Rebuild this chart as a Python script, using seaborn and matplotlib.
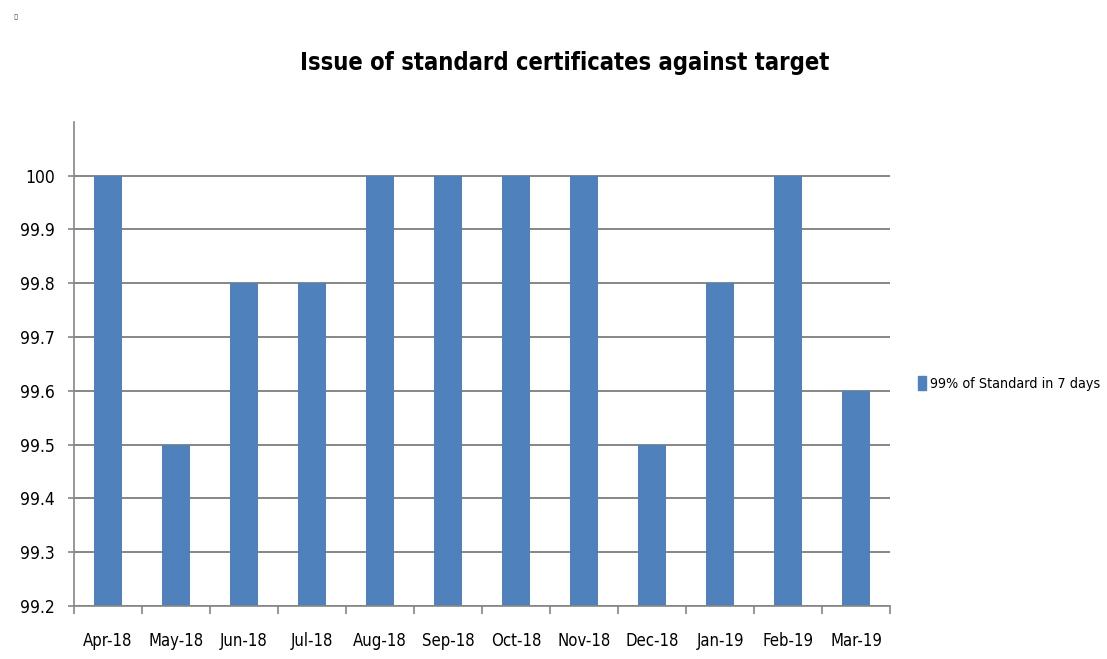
import numpy as np
import pandas as pd
import matplotlib
matplotlib.use("Agg")
import matplotlib.pyplot as plt
from matplotlib.ticker import FixedLocator
import seaborn as sns

months = ["Apr-18", "May-18", "Jun-18", "Jul-18", "Aug-18", "Sep-18",
          "Oct-18", "Nov-18", "Dec-18", "Jan-19", "Feb-19", "Mar-19"]
values = [100, 99.5, 99.8, 99.8, 100, 100, 100, 100, 99.5, 99.8, 100, 99.6]
series_name = "99% of Standard in 7 days"
yticks = [99.2, 99.3, 99.4, 99.5, 99.6, 99.7, 99.8, 99.9, 100]
ytick_labels = ["99.2", "99.3", "99.4", "99.5", "99.6", "99.7", "99.8", "99.9", "100"]

df = pd.DataFrame({"Month": months, "Value": values, "Series": series_name})

sns.set_style("white")
plt.rcParams['font.family'] = ['DejaVu Sans']
plt.rcParams['font.stretch'] = 'condensed'
plt.rcParams['text.color'] = 'black'
plt.rcParams['xtick.color'] = 'black'
plt.rcParams['ytick.color'] = 'black'

fig = plt.figure(figsize=(11.07, 6.59), dpi=100)
ax = fig.add_axes([0.0668, 0.0804, 0.7372, 0.7346])

sns.barplot(data=df, x="Month", y="Value", hue="Series", palette=["#4F81BD"],
            width=0.4, saturation=1, ax=ax, legend=False, linewidth=0)

ax.set_ylim(99.2, 100.1)
ax.set_xlim(-0.5, len(months) - 0.5)
ax.set_yticks(yticks)
ax.set_yticklabels(ytick_labels)
ax.yaxis.grid(True, color="#868686", linewidth=1.4)
ax.set_axisbelow(True)
ax.set_xlabel("")
ax.set_ylabel("")

for s in ["top", "right"]:
    ax.spines[s].set_visible(False)
for s in ["left", "bottom"]:
    ax.spines[s].set_color("#868686")
    ax.spines[s].set_linewidth(1.2)

ax.xaxis.set_minor_locator(FixedLocator(np.arange(-0.5, len(months), 1.0)))
ax.tick_params(axis="x", which="major", length=0, pad=19, labelsize=12,
               labelcolor="black")
ax.tick_params(axis="x", which="minor", length=6, width=1.2, color="#868686",
               direction="out", bottom=True)
ax.tick_params(axis="y", length=4, width=1.2, color="#868686", pad=10, labelsize=12.5,
               labelcolor="black", direction="out", left=True)

handle = plt.Rectangle((0, 0), 1, 1, color="#4F81BD")
fig.legend([handle], [series_name], loc="center left", bbox_to_anchor=(0.829, 0.418),
           frameon=False, fontsize=10.3, handlelength=0.6, handleheight=1.1,
           handletextpad=0.25, labelcolor="black", borderaxespad=0, borderpad=0)

fig.suptitle("Issue of standard certificates against target", x=0.51, y=0.922,
             fontsize=17, fontweight="bold", color="black")
fig.text(0.012, 0.982, "\u25af", fontsize=6, color="#444444", va="top")

fig.savefig("out.png", dpi=100)
